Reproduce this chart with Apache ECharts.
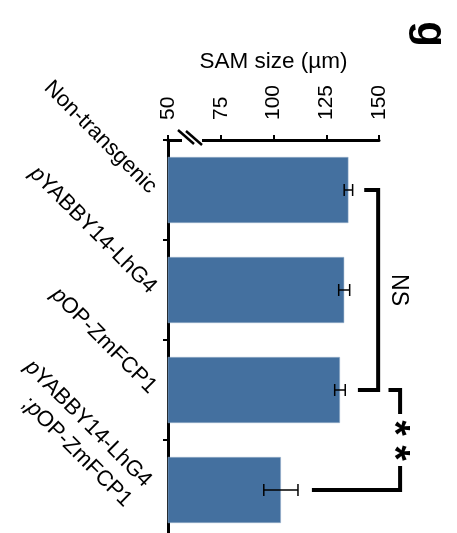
<!DOCTYPE html>
<html>
<head>
<meta charset="utf-8">
<script src="https://cdn.jsdelivr.net/npm/echarts@6/dist/echarts.min.js"></script>
<style>
  html, body { margin: 0; padding: 0; background: #fff; }
  #chart { width: 457px; height: 533px; }
</style>
</head>
<body>
<div id="chart"></div>
<script>
// ===== Data =====
const categories = ['Non-transgenic', 'pYABBY14-LhG4', 'pOP-ZmFCP1', 'pYABBY14-LhG4\n;pOP-ZmFCP1'];
const samSize    = [135.5, 133.5, 131.5, 103.5];
const samError   = [2.0, 2.6, 2.5, 8.1];
const valueTicks = [50, 75, 100, 125, 150];

// brackets: [fromCat, toCat, armStartFrom, armStartTo, spineValue, label]
const nsBracket  = [0, 2, 143, 140, 149.6, 'NS'];
const sigBracket = [2, 3, 154.5, 118.2, 160, '*'];

const FONT = '"Liberation Sans", Arial, sans-serif';
const BAR_COLOR = '#44709f';

const chart = echarts.init(document.getElementById('chart'), null, { renderer: 'canvas' });

// label formatter: italic leading "p"
function catLabel(v) {
  return v.split('\n').map(line => {
    const m = line.match(/^(;?)p(.*)$/);
    if (m) return (m[1] ? '{n|;}' : '') + '{i|p}{n|' + m[2] + '}';
    return '{n|' + line + '}';
  }).join('\n');
}

function renderBracket(b, gap) {
  return function (params, api) {
    const top    = api.coord([b[4], b[0]]);
    const bottom = api.coord([b[4], b[1]]);
    const armTop = api.coord([b[2], b[0]]);
    const armBot = api.coord([b[3], b[1]]);
    const lineStyle = { stroke: '#000', lineWidth: 4, fill: null };
    const children = [];
    const midY = (top[1] + bottom[1]) / 2;
    if (gap) {
      children.push({ type: 'polyline', shape: { points: [armTop, [top[0], top[1]], [top[0], midY - gap]] }, style: lineStyle });
      children.push({ type: 'polyline', shape: { points: [[top[0], midY + gap], [bottom[0], bottom[1]], armBot] }, style: lineStyle });
      [-12, 13].forEach(dy => children.push({
        type: 'text', x: top[0] - 7, y: midY + dy, rotation: -Math.PI / 2,
        style: { text: b[5], x: 0, y: 0, align: 'center', verticalAlign: 'middle', font: 'bold 40px ' + FONT, fill: '#000' }
      }));
    } else {
      children.push({ type: 'polyline', shape: { points: [armTop, top, bottom, armBot] }, style: lineStyle });
      children.push({
        type: 'text', x: top[0] + 20, y: midY, rotation: -Math.PI / 2,
        style: { text: b[5], x: 0, y: 0, align: 'center', verticalAlign: 'middle', font: '23px ' + FONT, fill: '#000' }
      });
    }
    return { type: 'group', children };
  };
}

const option = {
  animation: false,
  grid: { left: 168, top: 140, width: 211, height: 400, containLabel: false, outerBoundsMode: 'none' },
  xAxis: {
    type: 'value',
    position: 'top',
    min: valueTicks[0],
    max: valueTicks[valueTicks.length - 1],
    interval: 25,
    name: 'SAM size (\u00b5m)',
    nameLocation: 'middle',
    nameGap: 67,
    nameTextStyle: { fontFamily: FONT, fontSize: 22.5, color: '#000' },
    axisLine: { show: true, lineStyle: { color: '#000', width: 3 } },
    axisTick: { show: true, length: 5, lineStyle: { color: '#000', width: 2 } },
    axisLabel: { rotate: -90, margin: 20, fontFamily: FONT, fontSize: 21, color: '#000' },
    splitLine: { show: false }
  },
  yAxis: {
    type: 'category',
    inverse: true,
    data: categories.map((c, i) => i === 3 ? { value: c, textStyle: { padding: [26, 8, 0, 0] } } : c),
    axisLine: { show: true, lineStyle: { color: '#000', width: 3 } },
    axisTick: { show: true, length: 5, lineStyle: { color: '#000', width: 2 } },
    axisLabel: {
      rotate: -45, margin: 15, color: '#000',
      formatter: catLabel,
      rich: {
        n: { fontFamily: FONT, fontSize: 22, lineHeight: 28, color: '#000' },
        i: { fontFamily: FONT, fontSize: 22, lineHeight: 28, fontStyle: 'italic', color: '#000' }
      }
    }
  },
  series: [
    {
      type: 'bar',
      data: samSize,
      barWidth: '66%',
      itemStyle: { color: BAR_COLOR, borderColor: '#9fb6cf', borderWidth: 0.5 }
    },
    {
      type: 'custom',
      data: samSize.map((v, i) => [i, v, samError[i]]),
      renderItem: (params, api) => {
        const i = api.value(0), v = api.value(1), e = api.value(2);
        const lo = api.coord([v - e, i]);
        const hi = api.coord([v + e, i]);
        const h = 6;
        const st = { stroke: '#000', lineWidth: 1.5 };
        return {
          type: 'group',
          children: [
            { type: 'line', shape: { x1: lo[0], y1: lo[1], x2: hi[0], y2: hi[1] }, style: st },
            { type: 'line', shape: { x1: lo[0], y1: lo[1] - h, x2: lo[0], y2: lo[1] + h }, style: st },
            { type: 'line', shape: { x1: hi[0], y1: hi[1] - h, x2: hi[0], y2: hi[1] + h }, style: st }
          ]
        };
      },
      z: 5
    },
    { type: 'custom', data: [0], renderItem: renderBracket(nsBracket), z: 5 },
    { type: 'custom', data: [0], renderItem: renderBracket(sigBracket, 26), z: 5 }
  ],
  graphic: [
    // axis break mark
    { type: 'rect', shape: { x: 182, y: 134, width: 20, height: 10 }, style: { fill: '#fff' }, z: 100 },
    { type: 'line', shape: { x1: 178, y1: 130, x2: 194, y2: 144 }, style: { stroke: '#000', lineWidth: 2.5 }, z: 101 },
    { type: 'line', shape: { x1: 186, y1: 131, x2: 202, y2: 145 }, style: { stroke: '#000', lineWidth: 2.5 }, z: 101 },
    // panel letter
    {
      type: 'text', x: 430, y: 34, rotation: -Math.PI / 2,
      style: { text: 'g', x: 0, y: 0, align: 'center', verticalAlign: 'middle', font: 'bold 42px ' + FONT, fill: '#000' }
    }
  ]
};

chart.setOption(option);
</script>
</body>
</html>
